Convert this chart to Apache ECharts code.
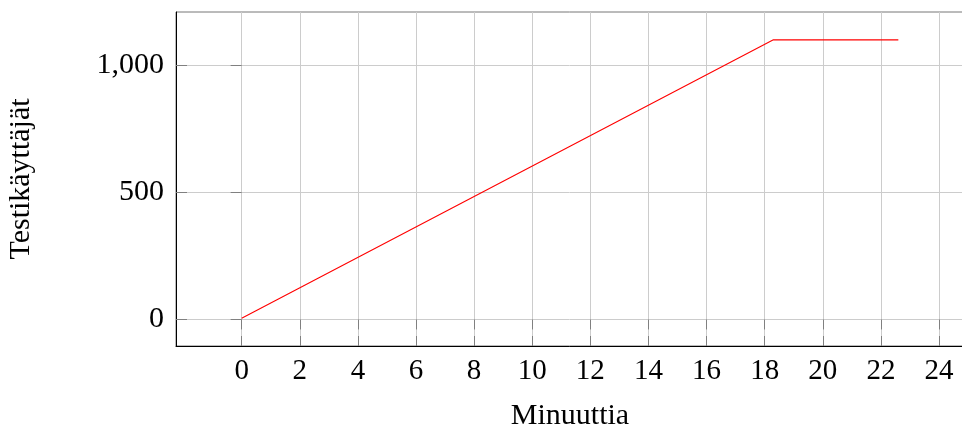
<!DOCTYPE html>
<html><head><meta charset="utf-8">
<script src="https://cdn.jsdelivr.net/npm/echarts@6/dist/echarts.min.js"></script>
<style>html,body{margin:0;padding:0;background:#fff}#c{width:962px;height:433px}</style>
</head><body><div id="c"></div>
<script>
const minutes = [0, 18.3, 22.6];
const users = [5, 1100, 1100];
const xTicks = [0,2,4,6,8,10,12,14,16,18,20,22,24];
const yTicks = [0,500,1000];
const xMin = -2.26, xMax = 24.86, yMin = -104.5, yMax = 1209.5;
const font = '"Liberation Serif", "DejaVu Serif", serif';
const chart = echarts.init(document.getElementById('c'), null, {renderer:'canvas'});
const gridColor = '#cccccc', tickColor = '#808080';
chart.setOption({
  animation:false,
  grid:{left:176, top:12, right:-2, bottom:87, show:true, borderColor:'#777', borderWidth:1,
        containLabel:false, outerBoundsMode:'none'},
  xAxis:[{
    type:'value', min:xMin, max:xMax, position:'bottom',
    name:'Minuuttia', nameLocation:'middle', nameGap:55,
    nameTextStyle:{fontFamily:font, fontSize:30, color:'#000'},
    axisLine:{show:true, onZero:false, lineStyle:{color:'#000', width:1}},
    axisTick:{show:true, inside:true, length:10, customValues:xTicks, lineStyle:{color:tickColor}},
    splitLine:{show:true, lineStyle:{color:gridColor, width:1}},
    axisLabel:{fontFamily:font, fontSize:29, color:'#000', margin:11, customValues:xTicks,
      formatter:v => String(v)}
  },{
    type:'value', min:xMin, max:xMax, position:'top',
    axisLine:{show:false}, axisLabel:{show:false}, splitLine:{show:false},
    axisTick:{show:true, inside:true, length:10, customValues:xTicks, lineStyle:{color:tickColor}}
  }],
  yAxis:[{
    type:'value', min:yMin, max:yMax, position:'left',
    name:'Testikäyttäjät', nameLocation:'middle', nameGap:140,
    nameTextStyle:{fontFamily:font, fontSize:30, color:'#000'},
    axisLine:{show:true, onZero:false, lineStyle:{color:'#000', width:1}},
    axisTick:{show:true, inside:true, length:11, customValues:yTicks, lineStyle:{color:tickColor}},
    splitLine:{show:true, lineStyle:{color:gridColor, width:1}},
    axisLabel:{fontFamily:font, fontSize:30, color:'#000', margin:12, customValues:yTicks,
      formatter:v => v.toLocaleString('en-US')}
  },{
    type:'value', min:yMin, max:yMax, position:'right',
    axisLine:{show:false}, axisLabel:{show:false}, splitLine:{show:false},
    axisTick:{show:true, inside:true, length:11, customValues:yTicks, lineStyle:{color:tickColor}}
  }],
  series:[{
    type:'line', data:minutes.map((m,i)=>[m, users[i]]), symbol:'none',
    lineStyle:{color:'#ff0000', width:1.1}, xAxisIndex:0, yAxisIndex:0
  }]
});
</script></body></html>
